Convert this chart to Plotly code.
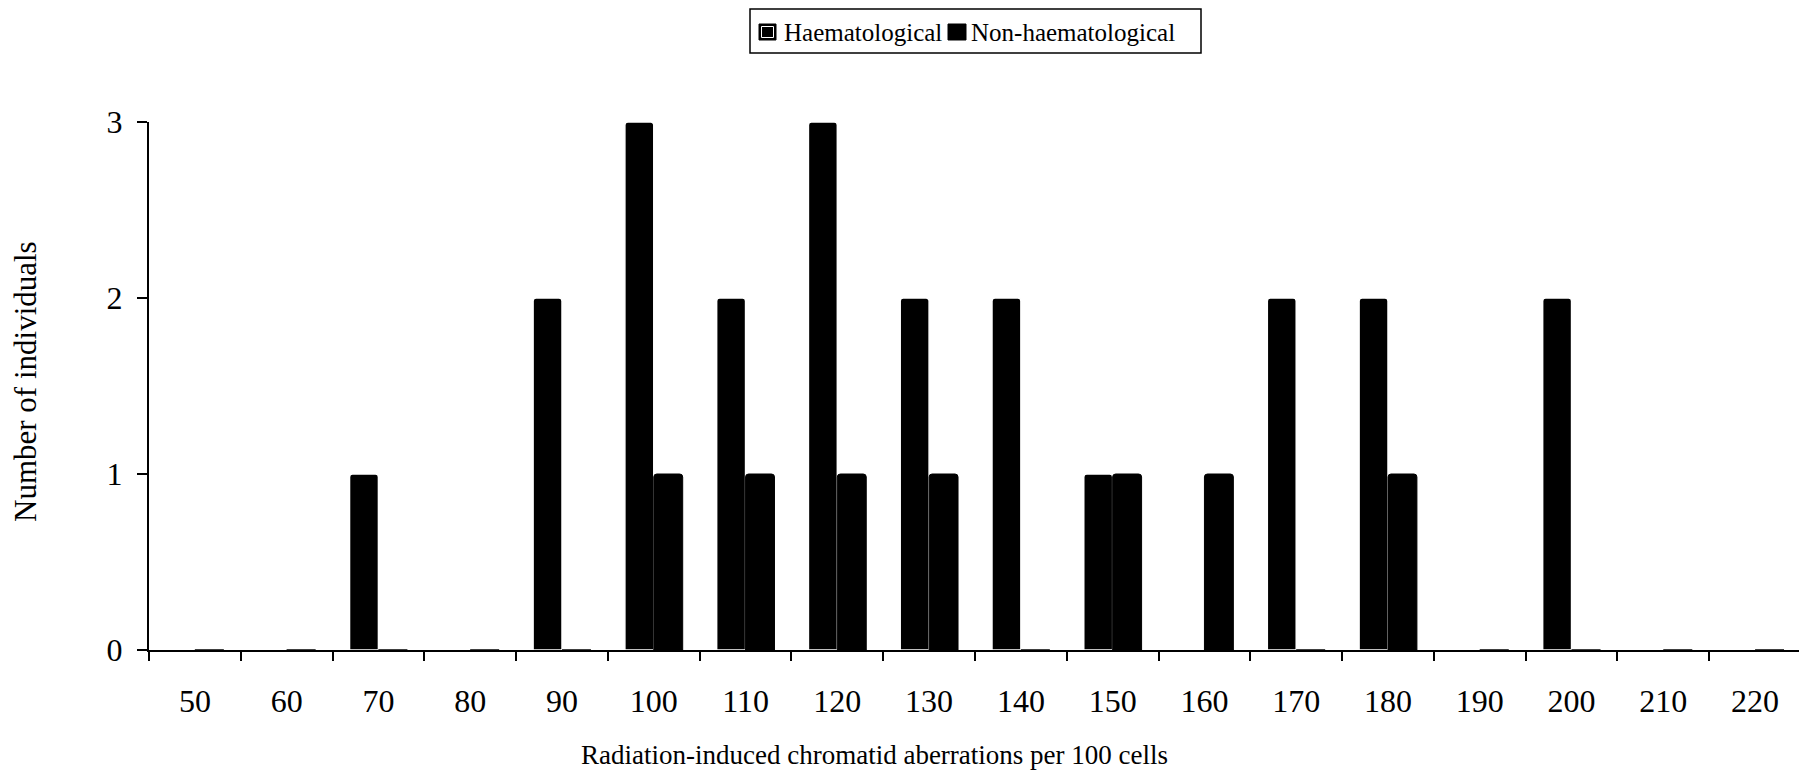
import plotly.graph_objects as go

# counts per aberration class (per 100 cells)
categories = ["50", "60", "70", "80", "90", "100", "110", "120", "130",
              "140", "150", "160", "170", "180", "190", "200", "210", "220"]
haematological = [0, 0, 1, 0, 2, 3, 2, 3, 2, 2, 1, 0, 2, 2, 0, 2, 0, 0]
non_haematological = [0, 0, 0, 0, 0, 1, 1, 1, 1, 0, 1, 1, 0, 1, 0, 0, 0, 0]
series_names = ["Haematological", "Non-haematological"]
y_ticks = [0, 1, 2, 3]

SERIF = "Liberation Serif, Times New Roman, serif"
OFF = 8  # the page body margin shifts the figure by 8px
W, H = 1807 - OFF, 771 - OFF
L, R, T, B = 149 - OFF, 6, 122 - OFF, 121


# page pixel -> paper helpers for the hand-drawn legend and titles
def px(x):
    return (x - OFF - L) / (W - L - R)


def py(y):
    return (H - B - (y - OFF)) / (H - T - B)


fig = go.Figure()
fig.add_trace(go.Bar(
    x=categories, y=haematological, name=series_names[0],
    marker=dict(color="#000000", line=dict(color="#ffffff", width=1.5)),
))
fig.add_trace(go.Bar(
    x=categories, y=non_haematological, name=series_names[1],
    marker=dict(color="#000000", line=dict(color="#000000", width=1)),
))

# legend (box + swatches + labels), drawn like the original
shapes = [
    dict(type="rect", xref="paper", yref="paper", x0=px(750), x1=px(1201), y0=py(53), y1=py(9),
         line=dict(color="#000000", width=1.5), fillcolor="white"),
    dict(type="rect", xref="paper", yref="paper", x0=px(759), x1=px(776), y0=py(40), y1=py(24),
         line=dict(color="#000000", width=1), fillcolor="#000000"),
    dict(type="rect", xref="paper", yref="paper", x0=px(761.5), x1=px(773.5), y0=py(37.5), y1=py(26.5),
         line=dict(color="#ffffff", width=1), fillcolor="rgba(0,0,0,0)"),
    dict(type="rect", xref="paper", yref="paper", x0=px(948), x1=px(966), y0=py(40), y1=py(24),
         line=dict(color="#000000", width=1), fillcolor="#000000"),
]
annotations = [
    dict(text=series_names[0], xref="paper", yref="paper", x=px(782), y=py(32),
         xanchor="left", yanchor="middle", showarrow=False,
         font=dict(family=SERIF, size=25, color="#000000")),
    dict(text=series_names[1], xref="paper", yref="paper", x=px(969), y=py(32),
         xanchor="left", yanchor="middle", showarrow=False,
         font=dict(family=SERIF, size=25, color="#000000")),
    dict(text="Radiation-induced chromatid aberrations per 100 cells", xref="paper", yref="paper",
         x=px(874), y=py(755), xanchor="center", yanchor="middle", showarrow=False,
         font=dict(family=SERIF, size=27, color="#000000")),
    dict(text="Number of individuals", xref="paper", yref="paper", textangle=-90,
         x=px(25), y=py(381), xanchor="center", yanchor="middle", showarrow=False,
         font=dict(family=SERIF, size=31, color="#000000")),
]

fig.update_layout(
    width=W, height=H,
    paper_bgcolor="white", plot_bgcolor="white",
    margin=dict(l=L, r=R, t=T, b=B, autoexpand=False),
    barmode="group", bargap=0.37, bargroupgap=0,
    barcornerradius=3,
    font=dict(family=SERIF, color="#000000"),
    showlegend=False,
    shapes=shapes, annotations=annotations,
)

fig.update_xaxes(
    type="category", range=[-0.5, 17.5], automargin=False,
    showline=True, linecolor="#000000", linewidth=2,
    ticks="outside", tickson="boundaries", ticklen=9, tickwidth=1.5, tickcolor="#000000",
    ticklabelstandoff=22,
    tickfont=dict(family=SERIF, size=32, color="#000000"),
    showgrid=False, zeroline=False,
)
fig.update_yaxes(
    range=[0, 3], tickvals=y_ticks, automargin=False,
    showline=True, linecolor="#000000", linewidth=2,
    ticks="outside", ticklen=10, tickwidth=1.5, tickcolor="#000000",
    ticklabelstandoff=8,
    tickfont=dict(family=SERIF, size=32, color="#000000"),
    showgrid=False, zeroline=False,
)

fig.write_html("out.html")
